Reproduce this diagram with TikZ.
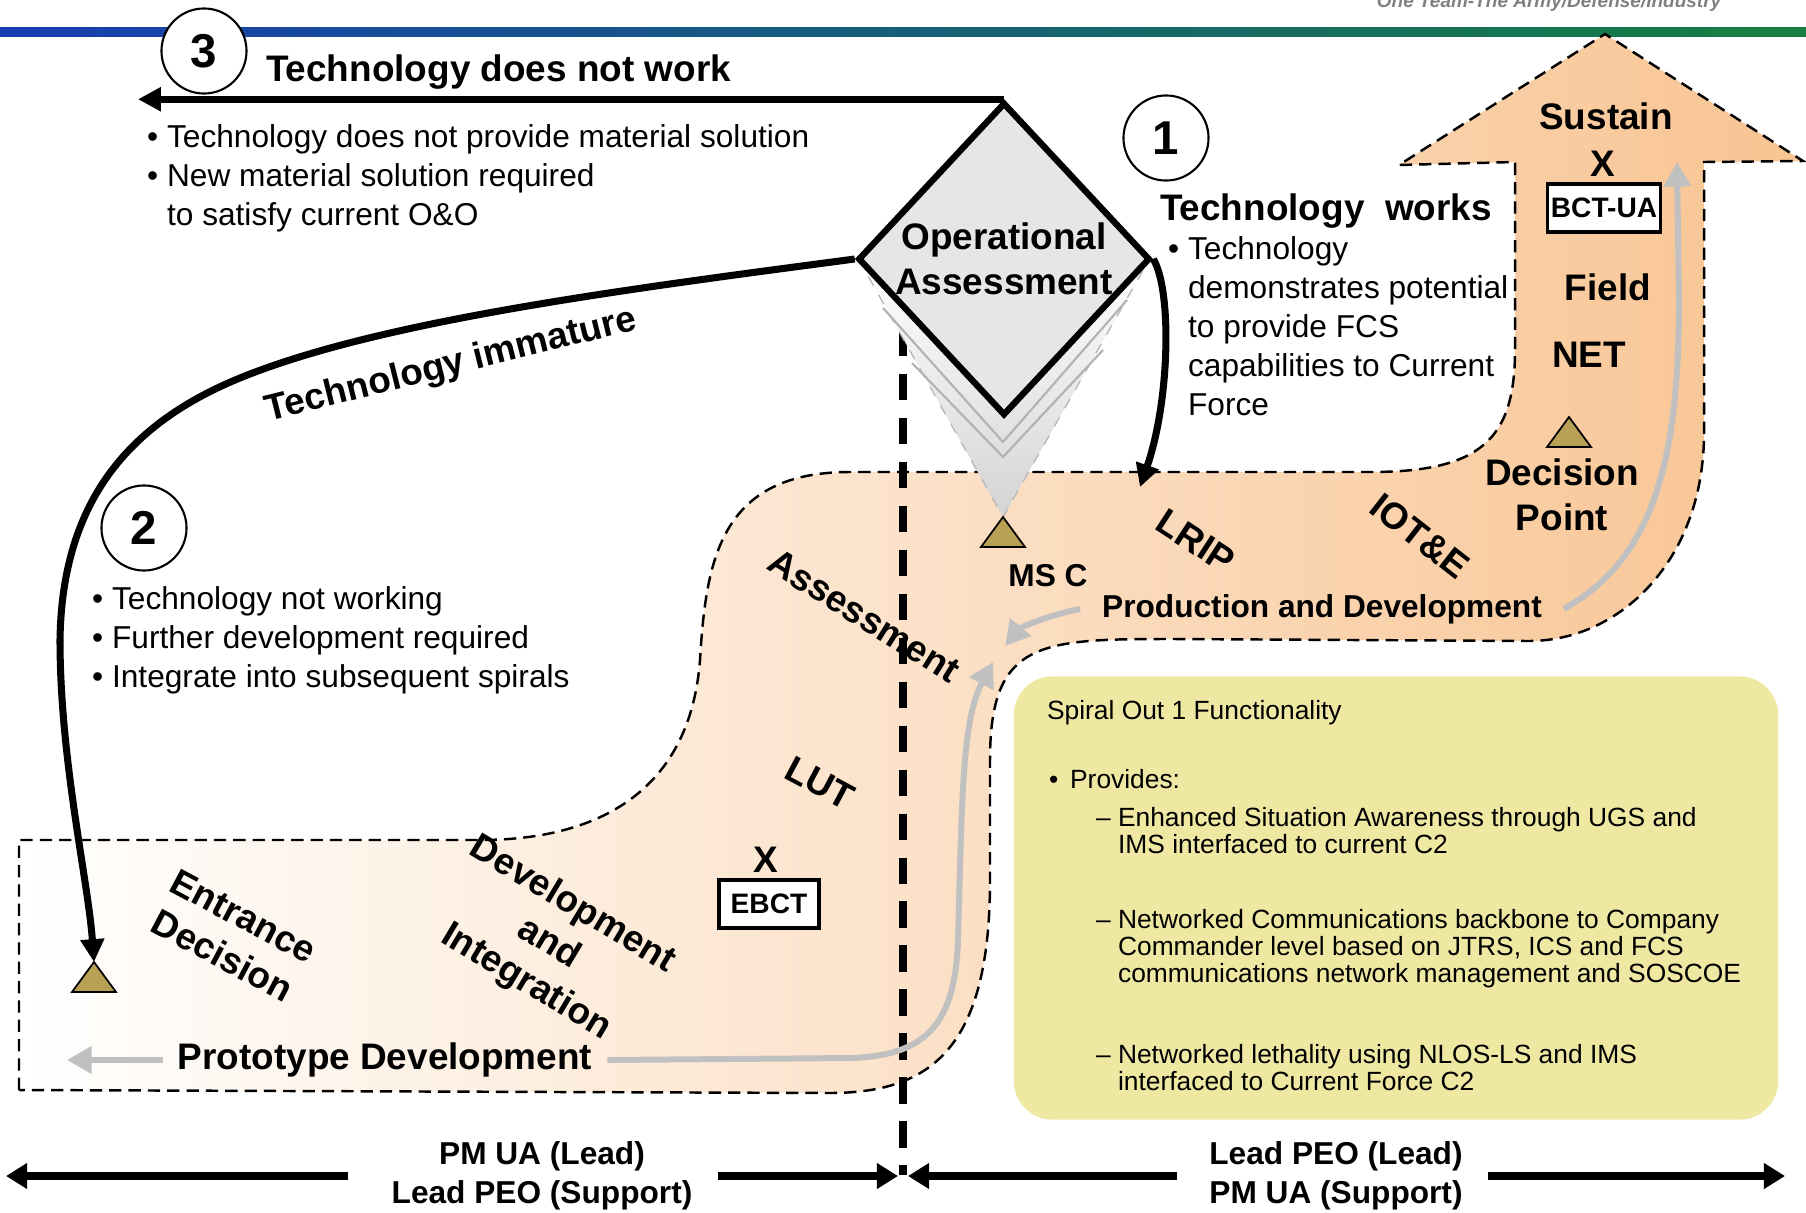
\documentclass[tikz,border=0pt]{standalone}
\usepackage{fontspec}
\setmainfont{Liberation Sans}
\usepackage{xcolor}
\usepackage{tikz}
\usetikzlibrary{arrows.meta}
\usetikzlibrary{calc}
\usetikzlibrary{shapes.geometric}
\usetikzlibrary{positioning}

\definecolor{peach}{RGB}{248,196,146}
\definecolor{msgold}{RGB}{184,160,84}
\definecolor{paleyel}{RGB}{239,232,163}
\definecolor{arrgray}{RGB}{192,192,192}
\definecolor{diamgray}{RGB}{230,230,230}
\definecolor{conegray}{RGB}{212,212,212}
\definecolor{barblue}{RGB}{24,62,178}
\definecolor{bargreen}{RGB}{22,128,64}

\newcommand{\bul}{\makebox[5.7pt][l]{\textbullet}}
\newcommand{\bulsp}{\hspace*{5.7pt}}
\newcommand{\milestone}[1]{\draw[msmark] (#1) -- ++(22,30) -- ++(-44,0) -- cycle;}

\begin{document}
\begin{tikzpicture}[x=0.01cm,y=-0.01cm,>={Triangle[length=6.5pt,width=6.5pt]},
                    semithick]
  \tikzstyle{head}=[font=\fontsize{10.5}{12.8}\selectfont\bfseries, inner sep=2pt]
  \tikzstyle{midbold}=[font=\fontsize{9}{11}\selectfont\bfseries]
  \tikzstyle{txt}=[font=\fontsize{9}{11.1}\selectfont, align=left, anchor=west, inner sep=0pt]
  \tikzstyle{small}=[font=\fontsize{7.5}{7.7}\selectfont, align=left, anchor=west, inner sep=0pt]
  \tikzstyle{num}=[draw, circle, fill=white, line width=0.6pt, minimum size=0.85cm, inner sep=0pt,
                   font=\fontsize{13.5}{14}\selectfont\bfseries]
  \tikzstyle{tag}=[draw, fill=white, line width=1.1pt, inner sep=0pt, minimum height=0.48cm,
                   font=\fontsize{8}{9}\selectfont\bfseries]
  \tikzstyle{msmark}=[draw=black, fill=msgold, line width=0.5pt]
  \tikzstyle{blkarrow}=[->, line width=2pt]
  \tikzstyle{grayarrow}=[-{Triangle[length=7pt,width=7.5pt]}, draw=arrgray, line width=1.7pt]
  \tikzstyle{botarrow}=[-{Triangle[length=6pt,width=7pt]}, line width=2pt]
  \tikzstyle{region}=[draw, dash pattern=on 3.5pt off 2pt, line width=0.7pt,
                      left color=white, right color=peach]
  \tikzstyle{divider}=[line width=2.2pt, dash pattern=on 7.5pt off 5pt]

  \useasboundingbox (0,0) rectangle (1806,1212);

  % header bar
  \shade[left color=barblue, right color=bargreen] (0,27) rectangle (1806,36);
  \node[anchor=base east, text=gray, font=\fontsize{5.4}{6}\selectfont\bfseries\itshape]
    (motto) at (1734,8) {One Team-The Army/Defense/Industry};

  % spiral band
  \path[region] (19,1090) -- (19,840) -- (480,840)
      .. controls (600,840) and (690,790) .. (700,660)
      .. controls (706,560) and (720,472) .. (850,472) -- (1370,472)
      .. controls (1480,472) and (1515,440) .. (1515,350) -- (1515,162)
      -- (1399,165) -- (1605,34) -- (1803,161) -- (1704,162) -- (1704,433)
      .. controls (1704,560) and (1620,641) .. (1529,641) -- (1174,639)
      .. controls (1040,639) and (990,640) .. (990,760) -- (990,880)
      .. controls (990,1050) and (930,1093) .. (829,1093) -- cycle;

  \draw[divider] (903,330) -- (903,1175);

  % assessment cone
  \coordinate (msc) at (1003,517);
  \shade[top color=white, bottom color=conegray] (858,258) -- (msc) -- (1150,258) -- (1004,416) -- cycle;
  \draw[gray!55, dashed, thin] (858,258) -- (msc) -- (1150,258);
  \draw[gray!60] (883,308) -- (1003,442) -- (1127,300);
  \draw[gray!60] (912,363) -- (1003,457) -- (1103,350);

  \node[diamond, draw, fill=diamgray, line width=1.8pt, minimum width=2.92cm,
        minimum height=3.13cm, inner sep=0pt] (oa) at (1004,259) {};
  \node[head, align=center, inner sep=0pt] (oatext) at (oa.center) {Operational\\Assessment};

  \coordinate (edtip) at (94,962);
  \coordinate (dptip) at (1569,417);
  \milestone{msc}
  \milestone{edtip}
  \milestone{dptip}

  % 3: does not work
  \node[num] (n3) at (204,51) {3};
  \node[head, anchor=west] (nowork) at (258,72) {Technology does not work};
  \coordinate (leftend) at (138,0);
  \draw[blkarrow] (oa.north) -- (oa.north -| leftend);
  \node[txt] (noworklist) at (146,178) {\bul Technology does not provide material solution\\
      \bul New material solution required\\ \bulsp to satisfy current O\&O};

  % 1: works
  \node[num] (n1) at (1166,138) {1};
  \node[head, anchor=west] (works) at (1152,211) {Technology\ \ works};
  \node[txt] (worklist) at (1167,326) {\bul Technology\\ \bulsp demonstrates potential\\
      \bulsp to provide FCS\\ \bulsp capabilities to Current\\ \bulsp Force};
  \coordinate (lripin) at (1140,487);
  \draw[blkarrow] (oa.east) .. controls (1172,290) and (1170,400) .. (lripin);

  % 2: immature
  \node[num] (n2) at (144,528) {2};
  \node[txt] (immlist) at (91,640) {\bul Technology not working\\
      \bul Further development required\\ \bul Integrate into subsequent spirals};
  \draw[blkarrow] (oa.west) .. controls (620,290) and (390,320) .. (250,374)
      .. controls (130,420) and (62,500) .. (60,640)
      .. controls (60,760) and (88,880) .. (edtip);
  \node[head, rotate=14] (immature) at (451,366) {Technology immature};

  % prototype side
  \node[head, inner xsep=4pt] (proto) at (385,1060) {Prototype Development};
  \coordinate (protoend) at (67,1060);
  \draw[grayarrow] (proto.west) -- (protoend);
  \coordinate (asmin) at (993,662);
  \draw[grayarrow] (proto.east) -- (850,1058) .. controls (930,1056) and (955,1020) .. (958,940)
      .. controls (962,800) and (962,720) .. (asmin);
  \node[head, rotate=-28, align=center] (entr) at (233,936) {Entrance\\Decision};
  \node[head, rotate=-31, align=center] (devint) at (549,944) {Development\\and\\Integration};
  \node[head] (ebx) at (766,860) {X};
  \node[tag, minimum width=1.0cm] (ebct) at (769,904) {EBCT};
  \node[head, rotate=-28] (lut) at (820,783) {LUT};
  \node[head, rotate=-32] (assess) at (864,616) {Assessment};

  % production side
  \node[head, rotate=-33] (lrip) at (1196,541) {LRIP};
  \node[head, rotate=-38] (iote) at (1420,536) {IOT\&E};
  \node[midbold] (msclbl) at (1048,576) {MS C};
  \node[midbold, inner xsep=6pt] (prod) at (1322,609) {Production and Development};
  \coordinate (prodleft) at (1005,646);
  \draw[grayarrow] (prod.west) .. controls (1045,616) and (1020,628) .. (prodleft);
  \coordinate (sustin) at (1677,162);
  \draw[grayarrow] (prod.east) .. controls (1650,560) and (1679,470) .. (1679,300) -- (sustin);

  \node[head] (sustain) at (1606,116) {Sustain};
  \node[head] (bctx) at (1603,164) {X};
  \node[tag, minimum width=1.13cm] (bct) at (1604,208) {BCT-UA};
  \node[head] (field) at (1608,287) {Field};
  \node[head] (net) at (1589,355) {NET};
  \node[head, align=center] (dp) at (1562,495) {Decision\\Point};

  % spiral out box
  \node[fill=paleyel, rounded corners=11pt, minimum width=7.64cm, minimum height=4.43cm]
    (spiral) at (1396,898) {};
  \node[small] (sotitle) at (1046,713) {Spiral Out 1 Functionality};
  \node[small] (prov) at (1048,779) {\makebox[6pt][l]{\textbullet}Provides:};
  \node[small] (itema) at (1095,831) {–\ Enhanced Situation Awareness through UGS and\\
      \phantom{–\ }IMS interfaced to current C2};
  \node[small] (itemb) at (1095,949) {–\ Networked Communications backbone to Company\\
      \phantom{–\ }Commander level based on JTRS, ICS and FCS\\
      \phantom{–\ }communications network management and SOSCOE};
  \node[small] (itemc) at (1095,1068) {–\ Networked lethality using NLOS-LS and IMS\\
      \phantom{–\ }interfaced to Current Force C2};

  % lead / support
  \node[midbold, align=center, inner xsep=12pt] (pmlead) at (542,1176) {PM UA (Lead)\\Lead PEO (Support)};
  \node[midbold, align=center, inner xsep=10pt] (peolead) at (1336,1176) {Lead PEO (Lead)\\PM UA (Support)};
  \coordinate (farleft) at (6,1176);
  \coordinate (midl) at (898,1176);
  \coordinate (midr) at (908,1176);
  \coordinate (farright) at (1785,1176);
  \draw[botarrow] (pmlead.west) -- (farleft);
  \draw[botarrow] ([xshift=-5pt]pmlead.east) -- (midl);
  \draw[botarrow] ([xshift=1pt]peolead.west) -- (midr);
  \draw[botarrow] ([xshift=-3pt]peolead.east) -- (farright);
\end{tikzpicture}
\end{document}
